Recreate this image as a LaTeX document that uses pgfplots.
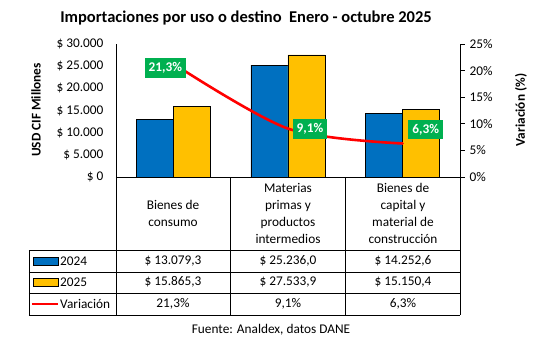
\documentclass[border=0pt]{standalone}
\usepackage{pgfplots}
\pgfplotsset{compat=1.18}
\usepackage{fontspec}
\setmainfont{Carlito}
\definecolor{cblue}{HTML}{0070C0}
\definecolor{cgold}{HTML}{FFC000}
\definecolor{cgreen}{HTML}{00B050}
\begin{document}
\fontsize{13.3pt}{17pt}\selectfont
\begin{tikzpicture}
\begin{axis}[scale only axis,
  width=344pt, height=133pt,
  xmin=-0.5, xmax=2.5, ymin=0, ymax=30000,
  axis x line*=bottom, axis y line*=left,
  x axis line style={-}, y axis line style={-},
  axis line style={line width=0.8pt, black},
  xtick=\empty, scaled y ticks=false,
  ytick={0,5000,10000,15000,20000,25000,30000},
  yticklabels={\$ 0,\$ 5.000,\$ 10.000,\$ 15.000,\$ 20.000,\$ 25.000,\$ 30.000},
  major tick length=0pt,
  y tick label style={xshift=-8pt},
  clip=false]
\addplot[ybar, bar width=37pt, bar shift=-18.5pt, fill=cblue, draw=black, line width=0.7pt]
  coordinates {(0,13079.3) (1,25236.0) (2,14252.6)};
\addplot[ybar, bar width=37pt, bar shift=18.5pt, fill=cgold, draw=black, line width=0.7pt]
  coordinates {(0,15865.3) (1,27533.9) (2,15150.4)};
\end{axis}
\begin{axis}[scale only axis,
  width=344pt, height=133pt,
  xmin=-0.5, xmax=2.5, ymin=0, ymax=25,
  axis x line=none, axis y line*=right,
  y axis line style={-, line width=0.8pt, black},
  ytick={0,5,10,15,20,25},
  yticklabels={0\%,5\%,10\%,15\%,20\%,25\%},
  tick align=outside, major tick length=5pt,
  ytick style={line width=0.8pt, black},
  clip=false]
\addplot[red, line width=2.6pt, smooth, line cap=round]
  coordinates {(0,21.3) (1,9.1) (2,6.3)};
\node[fill=cgreen, text=white, font=\bfseries, inner xsep=4pt, minimum height=19pt, xshift=-8pt, yshift=-4pt]
  at (axis cs:0,21.3) {21,3\%};
\node[fill=cgreen, text=white, font=\bfseries, inner xsep=4pt, minimum height=19pt, xshift=22pt, yshift=0pt]
  at (axis cs:1,9.1) {9,1\%};
\node[fill=cgreen, text=white, font=\bfseries, inner xsep=4pt, minimum height=19pt, xshift=23pt, yshift=14pt]
  at (axis cs:2,6.3) {6,3\%};
\end{axis}
\begin{scope}[x=1pt,y=1pt]
\node[font=\fontsize{16.5pt}{20pt}\selectfont\bfseries] at (130,159) {Importaciones por uso o destino\ \ Enero - octubre 2025};
\node[font=\bfseries, rotate=90] at (-80,67) {USD CIF Millones};
\node[font=\bfseries, rotate=90] at (405,67) {Variación (\%)};
\node at (155,-153) {Fuente: Analdex, datos DANE};
\begin{scope}[line width=0.8pt]
\draw (-87,-73) -- (344,-73);
\draw (-87,-95) -- (344,-95);
\draw (-87,-116) -- (344,-116);
\draw (-87,-138) -- (344,-138);
\draw (-87,-73) -- (-87,-138);
\draw (0,0) -- (0,-138);
\draw (114,0) -- (114,-138);
\draw (229,0) -- (229,-138);
\draw (344,0) -- (344,-138);
\end{scope}
\node[align=center] at (57,-36.5) {Bienes de\\consumo};
\node[align=center] at (172,-36.5) {Materias\\primas y\\productos\\intermedios};
\node[align=center] at (287,-36.5) {Bienes de\\capital y\\material de\\construcción};
\draw[fill=cblue, line width=0.7pt] (-83,-88) rectangle (-58,-80);
\draw[fill=cgold, line width=0.7pt] (-83,-109) rectangle (-58,-101);
\draw[red, line width=2.6pt] (-84,-127) -- (-58,-127);
\node[anchor=west, inner sep=0pt] at (-56,-84) {2024};
\node[anchor=west, inner sep=0pt] at (-56,-105) {2025};
\node[anchor=west, inner sep=0pt] at (-56,-127) {Variación};
\node at (57,-84) {\$ 13.079,3};
\node at (172,-84) {\$ 25.236,0};
\node at (287,-84) {\$ 14.252,6};
\node at (57,-105) {\$ 15.865,3};
\node at (172,-105) {\$ 27.533,9};
\node at (287,-105) {\$ 15.150,4};
\node at (57,-127) {21,3\%};
\node at (172,-127) {9,1\%};
\node at (287,-127) {6,3\%};
\pgfresetboundingbox
\useasboundingbox (-116,-161) rectangle (420,177);
\end{scope}
\end{tikzpicture}
\end{document}
